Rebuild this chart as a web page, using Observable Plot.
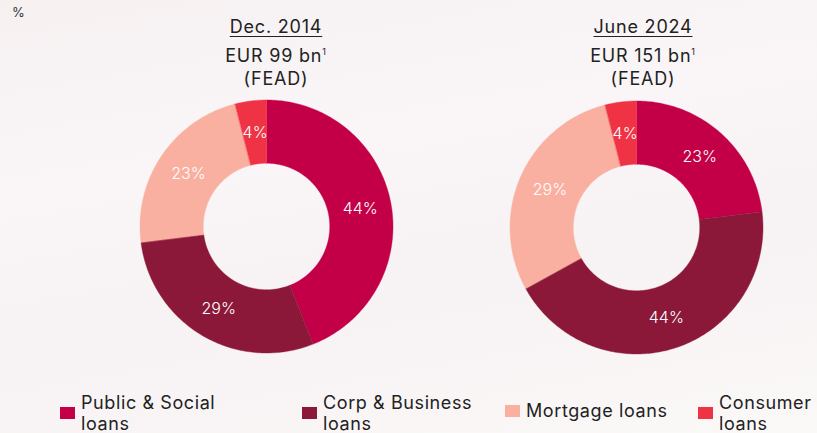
<!DOCTYPE html>
<html>
<head>
<meta charset="utf-8">
<script src="https://cdn.jsdelivr.net/npm/d3@7"></script>
<script src="https://cdn.jsdelivr.net/npm/@observablehq/plot@0.6"></script>
<style>
  html, body { margin: 0; padding: 0; }
  body {
    width: 817px; height: 433px; position: relative; overflow: hidden;
    background: linear-gradient(170deg, #f6f0f1 0%, #faf6f7 35%, #f7f2f3 60%, #fbf8f8 100%);
    font-family: Inter, "Open Sans", sans-serif; color: #222;
  }
  .abs { position: absolute; }
  .pct { left: 12px; top: 4px; font-size: 13px; color: #333; }
  .head { width: 220px; text-align: center; font-size: 18px; line-height: 23px; color: #222; letter-spacing: 0.8px; }
  .head .t { text-decoration: underline; text-underline-offset: 3px; text-decoration-thickness: 1px; margin-bottom: 6px; }
  .head sup { font-size: 9px; vertical-align: 7px; line-height: 0; }
  .leg { font-size: 18px; line-height: 21px; color: #222; display: flex; align-items: center; letter-spacing: 0.6px; }
  .leg .sw { width: 15px; height: 12px; margin-right: 6px; flex: none; }
</style>
</head>
<body>
<div class="abs pct">%</div>
<div id="heads"></div>
<div id="charts"></div>
<div id="legend"></div>
<script>
const categories = ["Public & Social loans", "Corp & Business loans", "Mortgage loans", "Consumer loans"];
const legendLines = [["Public & Social", "loans"], ["Corp & Business", "loans"], ["Mortgage loans"], ["Consumer", "loans"]];
const colors = ["#c30047", "#8c1839", "#f9b0a1", "#f03344"];
const periods = ["Dec. 2014", "June 2024"];
const totals = ["EUR 99 bn", "EUR 151 bn"];
const valuesDec2014 = [44, 29, 23, 4];
const valuesJun2024 = [23, 44, 29, 4];

const series = [valuesDec2014, valuesJun2024];
const chartLeft = [140, 510];
const chartTop = [100, 100.5];
const headCenter = [276, 643];
const size = 253;
const rIn = 0.5, rOut = 1;

function donut(values) {
  const arcs = d3.pie().sort(null).value(d => d.v)(values.map((v, i) => ({v, cat: categories[i]})));
  const pts = [];
  for (const a of arcs) {
    const n = Math.max(8, Math.ceil((a.endAngle - a.startAngle) * 60));
    for (let k = 0; k <= n; k++) {
      const t = a.startAngle + (a.endAngle - a.startAngle) * k / n;
      pts.push({cat: a.data.cat, x1: rIn * Math.sin(t), y1: rIn * Math.cos(t), x2: rOut * Math.sin(t), y2: rOut * Math.cos(t)});
    }
  }
  const labels = arcs.map(a => {
    const m = (a.startAngle + a.endAngle) / 2, r = (rIn + rOut) / 2;
    return {x: r * Math.sin(m), y: r * Math.cos(m), text: a.data.v + "%"};
  });
  return Plot.plot({
    width: size, height: size, margin: 0,
    x: {domain: [-1, 1], axis: null},
    y: {domain: [-1, 1], axis: null},
    color: {domain: categories, range: colors},
    style: {background: "transparent", overflow: "visible"},
    marks: [
      Plot.area(pts, {x1: "x1", y1: "y1", x2: "x2", y2: "y2", z: "cat", fill: "cat", stroke: "cat", strokeWidth: 0.4, curve: "linear"}),
      Plot.text(labels, {x: "x", y: "y", text: "text", fill: "#fff", fontSize: 16, fontWeight: 300, fontFamily: "Inter, sans-serif"})
    ]
  });
}

series.forEach((vals, i) => {
  const h = document.createElement("div");
  h.className = "abs head";
  h.style.left = (headCenter[i] - 110) + "px";
  h.style.top = "15px";
  h.innerHTML = `<div class="t">${periods[i]}</div><div>${totals[i]}<sup>1</sup></div><div>(FEAD)</div>`;
  document.getElementById("heads").appendChild(h);

  const c = document.createElement("div");
  c.className = "abs";
  c.style.left = chartLeft[i] + "px";
  c.style.top = chartTop[i] + "px";
  c.appendChild(donut(vals));
  document.getElementById("charts").appendChild(c);
});

const legLeft = [60, 302, 505, 698];
categories.forEach((cat, i) => {
  const d = document.createElement("div");
  d.className = "abs leg";
  d.style.left = legLeft[i] + "px";
  d.style.top = (legendLines[i].length === 2 ? 392 : 400) + "px";
  d.innerHTML = `<div class="sw" style="background:${colors[i]}"></div><div>${legendLines[i].join("<br>")}</div>`;
  document.getElementById("legend").appendChild(d);
});
</script>
</body>
</html>
